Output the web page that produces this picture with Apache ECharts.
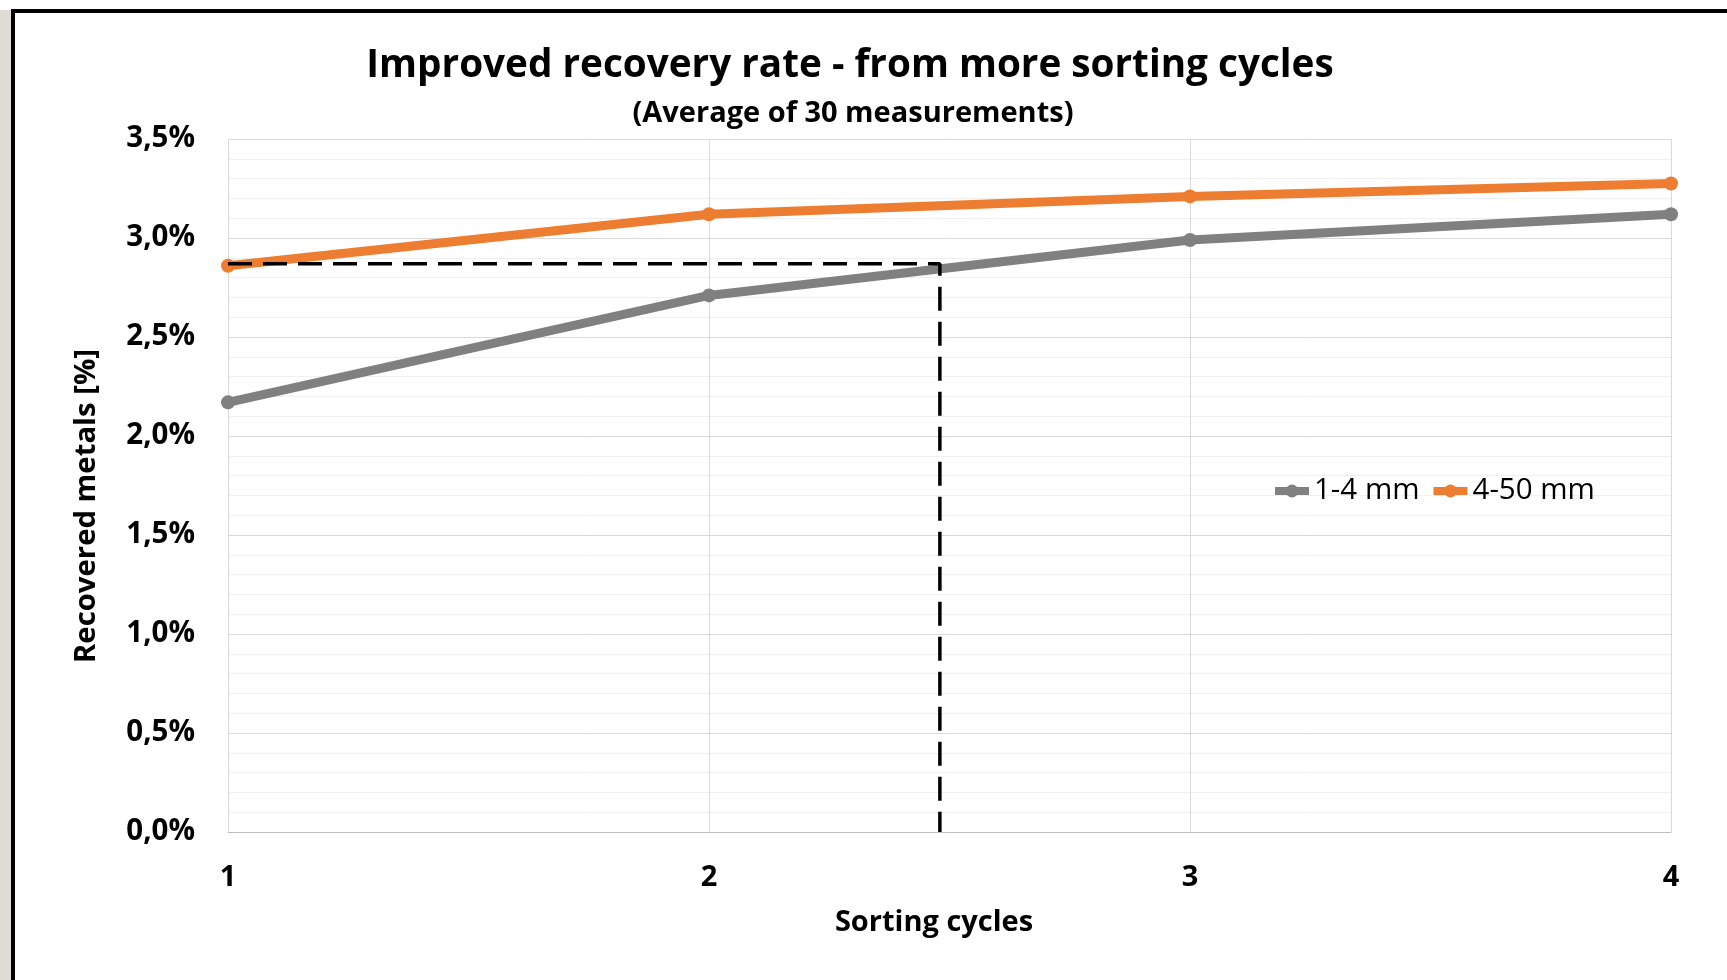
<!DOCTYPE html>
<html>
<head>
<meta charset="utf-8">
<title>Improved recovery rate</title>
<script src="https://cdn.jsdelivr.net/npm/echarts@6/dist/echarts.min.js"></script>
<style>
  html, body { margin: 0; padding: 0; background: #fff; overflow: hidden; }
  .strip { position: absolute; left: 0; top: 10px; width: 11px; height: 970px; background: #dfdcd5; }
  .frame { position: absolute; left: 11px; top: 9px; width: 1716px; height: 971px; border-left: 4px solid #000; border-top: 4px solid #000; box-sizing: border-box; }
  #chart { position: absolute; left: 0; top: 0; width: 1727px; height: 980px; }
</style>
</head>
<body>
<div class="strip"></div>
<div class="frame"></div>
<div id="chart"></div>
<script>
// values (percent)
const cycles = [1, 2, 3, 4];
const fine = [2.17, 2.71, 2.99, 3.12];     // 1-4 mm
const coarse = [2.86, 3.12, 3.21, 3.275];  // 4-50 mm
const seriesNames = ["1-4 mm", "4-50 mm"];
// dashed guide: from cycle 1 at 2.87% across, then down to the axis
const guideX = [1, 2.48, 2.48];
const guideY = [2.87, 2.87, 0];
const yTicks = [0, 0.5, 1, 1.5, 2, 2.5, 3, 3.5];

const font = "'Open Sans', 'DejaVu Sans', sans-serif";

function pairs(xs, ys) {
  return xs.map((x, i) => [x, ys[i]]);
}

function pct(v) {
  return v.toFixed(1).replace(".", ",") + "%";
}

document.addEventListener("DOMContentLoaded", () => {
  const chart = echarts.init(document.getElementById("chart"));

  chart.setOption({
    animation: false,
    textStyle: { fontFamily: font },
    title: [
      {
        text: "Improved recovery rate - from more sorting cycles",
        left: 845, top: 41, textAlign: "center",
        textStyle: { fontFamily: font, fontSize: 38.7, fontWeight: "bold", color: "#000" }
      },
      {
        text: "(Average of 30 measurements)",
        left: 848, top: 94, textAlign: "center",
        textStyle: { fontFamily: font, fontSize: 29, fontWeight: "bold", color: "#000" }
      }
    ],
    legend: {
      data: seriesNames,
      left: 1266,
      top: 471,
      itemWidth: 34,
      itemHeight: 16,
      itemGap: 10,
      lineStyle: { width: 8 },
      textStyle: { fontFamily: font, fontSize: 29.5, color: "#000" }
    },
    grid: { left: 228, right: 56, top: 139, bottom: 148 },
    xAxis: {
      type: "value",
      min: cycles[0],
      max: cycles[cycles.length - 1],
      interval: 1,
      name: "Sorting cycles",
      nameLocation: "middle",
      nameGap: 76,
      nameTextStyle: { fontFamily: font, fontSize: 29, fontWeight: "bold", color: "#000", padding: [0, 31, 0, 0] },
      axisLine: { show: true, lineStyle: { color: "#bfbfbf", width: 1 } },
      axisTick: { show: false },
      axisLabel: { margin: 31, fontSize: 29, fontWeight: "bold", color: "#000", formatter: (v) => String(v) },
      splitLine: { show: true, lineStyle: { color: "#d9d9d9", width: 1 } }
    },
    yAxis: {
      type: "value",
      min: yTicks[0],
      max: yTicks[yTicks.length - 1],
      interval: 0.5,
      name: "Recovered metals [%]",
      nameLocation: "middle",
      nameGap: 127,
      nameTextStyle: { fontFamily: font, fontSize: 29.3, fontWeight: "bold", color: "#000", padding: [0, 41, 0, 0] },
      axisLine: { show: false },
      axisTick: { show: false },
      axisLabel: { margin: 33, fontSize: 29.5, fontWeight: "bold", color: "#000", formatter: pct, padding: [4, 0, 0, 0] },
      splitLine: { show: true, lineStyle: { color: "#d9d9d9", width: 1 } },
      minorTick: { show: false, splitNumber: 5 },
      minorSplitLine: { show: true, lineStyle: { color: "#f0f0f0", width: 1 } }
    },
    series: [
      {
        name: seriesNames[0],
        type: "line",
        data: pairs(cycles, fine),
        symbol: "circle",
        symbolSize: 14,
        color: "#808080",
        lineStyle: { width: 9, color: "#808080" },
        itemStyle: { color: "#808080" }
      },
      {
        name: seriesNames[1],
        type: "line",
        data: pairs(cycles, coarse),
        symbol: "circle",
        symbolSize: 14,
        color: "#ed7d31",
        lineStyle: { width: 9, color: "#ed7d31" },
        itemStyle: { color: "#ed7d31" }
      },
      {
        name: "guide",
        type: "line",
        data: pairs(guideX, guideY),
        symbol: "none",
        silent: true,
        z: 5,
        lineStyle: { color: "#000", width: 3.5, type: [24, 11] }
      }
    ]
  });
});
</script>
</body>
</html>
